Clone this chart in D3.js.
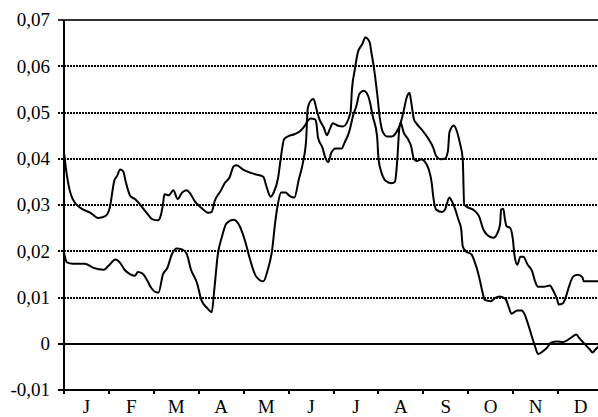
<!DOCTYPE html>
<html>
<head>
<meta charset="utf-8">
<script src="https://cdn.jsdelivr.net/npm/d3@7"></script>
<style>
  html, body { margin: 0; padding: 0; background: #fff; }
  svg { display: block; }
  text { font-family: "Liberation Serif", "Times New Roman", Times, serif; fill: #000; }
</style>
</head>
<body>
<svg id="chart" width="598" height="417"></svg>
<script>
// ---- data (x = day-of-year position, y = value) ----
const monthLabels = ["J","F","M","A","M","J","J","A","S","O","N","D"];
const yTickValues = [-0.01, 0, 0.01, 0.02, 0.03, 0.04, 0.05, 0.06, 0.07];
const yTickLabels = ["-0,01","0","0,01","0,02","0,03","0,04","0,05","0,06","0,07"];

const seriesADays = [0,2,4,6,11,18,23,28,31,33,34,36,38,40,42,45,48,51,56,60,64,65,67,68,71,74,77,80,83,85,89,93,98,100,102,106,109,112,115,117,121,126,130,135,137,140,142,145,147,149,152,156,160,163,165,167,170,171,172,175,177,179,181,184,188,190,193,196,198,200,203,205,207,209,212,213,215,218,222,224,225,226,227,228,230,233,235,237,239,242,244,247,249,250,252,256,258,261,262,265,267,269,270,272,276,278,281,283,285,289,292,295,299,301,303,307,310,312,314,317,319,321,324,327,330,334,338,343,347,349,353,356,358,360,362];
const seriesAValues = [0.0415,0.0363,0.033,0.0312,0.0294,0.0283,0.0272,0.0276,0.0294,0.0334,0.0352,0.0363,0.0377,0.0373,0.0348,0.0319,0.0313,0.0303,0.0283,0.0269,0.0267,0.0272,0.0301,0.0323,0.0321,0.0332,0.0313,0.0327,0.0332,0.0327,0.0306,0.0294,0.0283,0.0285,0.0308,0.033,0.0348,0.0359,0.0384,0.0386,0.0377,0.037,0.0366,0.0361,0.0341,0.0318,0.0327,0.0359,0.0406,0.0442,0.0449,0.0453,0.046,0.0471,0.0482,0.0487,0.0485,0.0475,0.0446,0.0424,0.0402,0.0393,0.0413,0.0422,0.0422,0.0435,0.0457,0.0496,0.0514,0.054,0.0547,0.0542,0.0525,0.0493,0.0449,0.0399,0.037,0.0352,0.0347,0.035,0.037,0.0413,0.0464,0.0478,0.0457,0.0442,0.0428,0.0399,0.0395,0.0399,0.0395,0.0377,0.0348,0.0319,0.029,0.0285,0.029,0.0316,0.0312,0.029,0.0269,0.0247,0.0211,0.02,0.0193,0.0178,0.0146,0.0117,0.0095,0.0092,0.0099,0.0102,0.0097,0.0081,0.0065,0.0072,0.0072,0.0063,0.0045,0.0014,-0.0006,-0.0022,-0.0017,-0.0009,0.0003,0.0005,0.0004,0.0012,0.002,0.0012,-0.0002,-0.0012,-0.0019,-0.0012,-0.0006];

const seriesBDays = [0,2,6,14,20,27,30,35,38,41,45,48,50,53,56,59,63,64,67,70,73,76,80,83,86,90,93,97,100,102,104,107,110,115,119,123,126,130,135,138,141,143,145,147,150,153,156,159,162,164,165,167,169,171,173,176,178,180,182,186,189,194,195,197,199,202,204,207,208,210,212,214,216,219,222,225,228,230,232,234,235,237,239,242,247,250,252,255,258,260,261,264,266,268,270,271,274,277,281,284,287,291,293,295.3,296,297.5,298.6,299.7,302,304,305,307,309,311,314,317,319,321,325,329,331,334,335,338,340,342,345,348,351,352,362];
const seriesBValues = [0.0197,0.0176,0.0173,0.0173,0.0164,0.016,0.0168,0.0182,0.0175,0.016,0.015,0.0147,0.0155,0.0152,0.0139,0.0121,0.0111,0.0111,0.015,0.0164,0.0193,0.0206,0.0204,0.0195,0.016,0.0132,0.0095,0.0077,0.0068,0.0124,0.0189,0.0232,0.026,0.0268,0.0254,0.0218,0.0182,0.0146,0.0135,0.016,0.0204,0.0262,0.0305,0.0327,0.0327,0.0319,0.0316,0.0355,0.0395,0.0442,0.0507,0.0525,0.0529,0.0507,0.0485,0.0467,0.0451,0.0464,0.0477,0.0471,0.047,0.05,0.055,0.0594,0.063,0.0648,0.0662,0.0652,0.0633,0.0594,0.0543,0.0485,0.0457,0.0448,0.0448,0.0457,0.0478,0.0503,0.0532,0.0542,0.0525,0.0485,0.0475,0.0464,0.0442,0.0424,0.0406,0.0399,0.04,0.0417,0.0457,0.0472,0.046,0.0435,0.04,0.0301,0.0294,0.029,0.0276,0.0247,0.0234,0.0229,0.0236,0.0258,0.029,0.0292,0.0269,0.0254,0.0251,0.0225,0.0193,0.0171,0.0188,0.0188,0.0171,0.0157,0.0135,0.0123,0.0123,0.0126,0.0117,0.0095,0.0085,0.0088,0.0103,0.0124,0.0146,0.0149,0.0144,0.0135,0.0135];

// ---- layout ----
const svg = d3.select("#chart");
const mLeft = 64, mRight = 603, mTop = 20, mBottom = 390;
const x = d3.scaleLinear().domain([0, 365]).range([mLeft, mRight]);
const y = d3.scaleLinear().domain([-0.01, 0.07]).range([mBottom, mTop]);
const monthLen = 365 / 12;

// gridlines
const grid = svg.append("g");
yTickValues.forEach((v) => {
  const solid = (v === 0 || v === 0.07 || v === -0.01);
  const yy = Math.round(y(v));
  grid.append("line")
    .attr("x1", mLeft - 6).attr("x2", 598)
    .attr("y1", yy).attr("y2", yy)
    .attr("stroke", v === 0.07 ? "#333" : "#000")
    .attr("stroke-width", 2)
    .attr("stroke-dasharray", solid ? null : "2,1");
});

// y labels
svg.append("g").selectAll("text")
  .data(yTickValues)
  .join("text")
  .attr("x", 50)
  .attr("y", d => y(d))
  .attr("dy", "0.34em")
  .attr("text-anchor", "end")
  .attr("font-size", 19)
  .text((d, i) => yTickLabels[i]);

// left axis
svg.append("line")
  .attr("x1", mLeft).attr("x2", mLeft)
  .attr("y1", mTop).attr("y2", mBottom + 4)
  .attr("stroke", "#000").attr("stroke-width", 2);

// x ticks
svg.append("g").selectAll("line")
  .data(d3.range(1, 13))
  .join("line")
  .attr("x1", d => Math.round(x(d * monthLen))).attr("x2", d => Math.round(x(d * monthLen)))
  .attr("y1", mBottom).attr("y2", mBottom + 4)
  .attr("stroke", "#000").attr("stroke-width", 2);

// month labels
svg.append("g").selectAll("text")
  .data(monthLabels)
  .join("text")
  .attr("x", (d, i) => x((i + 0.5) * monthLen))
  .attr("y", 413)
  .attr("text-anchor", "middle")
  .attr("font-size", 19)
  .text(d => d);

// lines
const line = d3.line()
  .x(d => x(d[0]))
  .y(d => y(d[1]))
  .curve(d3.curveMonotoneX);

const dataA = seriesADays.map((d, i) => [d, seriesAValues[i]]);
const dataB = seriesBDays.map((d, i) => [d, seriesBValues[i]]);

[dataA, dataB].forEach(data => {
  svg.append("path")
    .datum(data)
    .attr("fill", "none")
    .attr("stroke", "#000")
    .attr("stroke-width", 2)
    .attr("stroke-linejoin", "round")
    .attr("d", line);
});
</script>
</body>
</html>
